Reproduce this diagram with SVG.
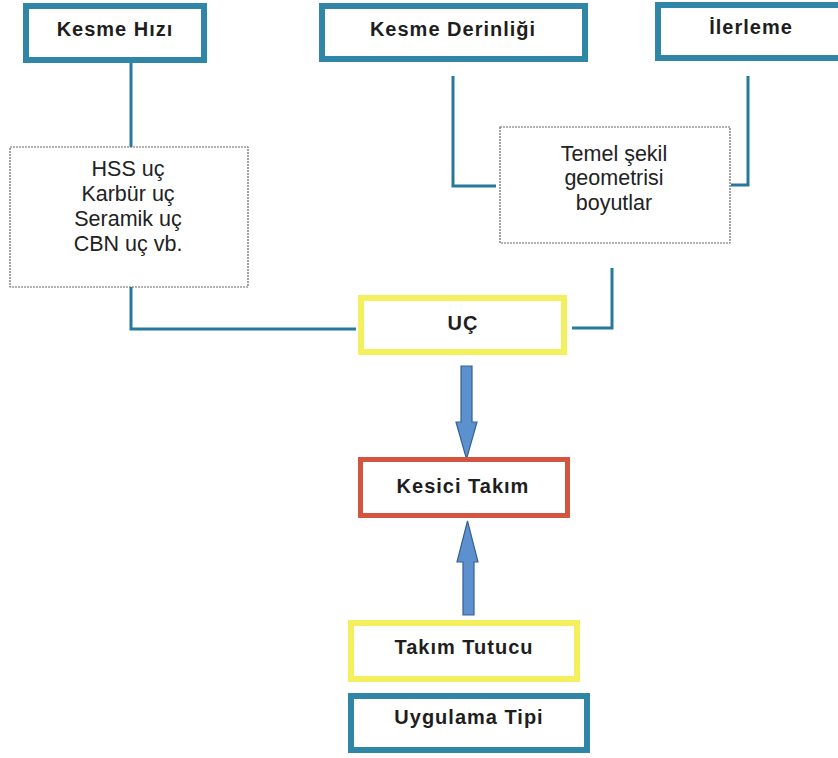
<svg xmlns="http://www.w3.org/2000/svg" width="838" height="758" viewBox="0 0 838 758">
  <style>
    .teal { fill: #ffffff; stroke: #2f86a6; stroke-width: 6; }
    .yellow { fill: #ffffff; stroke: #f4ef5c; stroke-width: 6; }
    .red { fill: #ffffff; stroke: #d4553f; stroke-width: 5; }
    .dotted { fill: #ffffff; stroke: #666666; stroke-width: 1.2; stroke-dasharray: 2 1; }
    .lbl { font-family: "Liberation Sans", Arial, sans-serif; font-weight: bold; font-size: 20px; letter-spacing: 1px; fill: #1e1e1e; text-anchor: middle; }
    .txt { font-family: "Liberation Sans", Arial, sans-serif; font-size: 21.5px; fill: #222222; text-anchor: middle; }
    .link { fill: none; stroke: #27799c; stroke-width: 3; }
    .arrow { fill: #5d90cf; stroke: #35628f; stroke-width: 1.2; stroke-linejoin: miter; }
  </style>

  <rect x="0" y="0" width="838" height="758" fill="#ffffff"/>

  <!-- connectors -->
  <g id="connectors">
    <path class="link" d="M131,63 V147"/>
    <path class="link" d="M131,287 V329 H356"/>
    <path class="link" d="M453,76 V186 H496"/>
    <path class="link" d="M748,76 V185 H731"/>
    <path class="link" d="M612,268 V328 H572"/>
    <!-- UÇ down to Kesici Takım -->
    <path class="arrow" d="M461,366 H472 V422 H477 L466.5,459 L456,422 H461 Z"/>
    <!-- Takım Tutucu up to Kesici Takım -->
    <path class="arrow" d="M463,615 V562 H457 L467.5,521 L478,562 H474 V615 Z"/>
  </g>

  <g id="kesme-hizi">
    <rect class="teal" x="26" y="6" width="178" height="54"/>
    <text class="lbl" x="115" y="36">Kesme Hızı</text>
  </g>

  <g id="kesme-derinligi">
    <rect class="teal" x="322" y="6" width="263" height="53"/>
    <text class="lbl" x="453" y="36">Kesme Derinliği</text>
  </g>

  <g id="ilerleme">
    <rect class="teal" x="658" y="5" width="190" height="53"/>
    <text class="lbl" x="751" y="34">İlerleme</text>
  </g>

  <g id="uc-turleri">
    <rect class="dotted" x="10" y="147" width="238" height="140"/>
    <text class="txt" x="128" y="176">HSS uç</text>
    <text class="txt" x="128" y="201">Karbür uç</text>
    <text class="txt" x="128" y="226">Seramik uç</text>
    <text class="txt" x="128" y="251">CBN uç vb.</text>
  </g>

  <g id="temel-sekil">
    <rect class="dotted" x="500" y="127" width="230" height="116"/>
    <text class="txt" x="614" y="161">Temel şekil</text>
    <text class="txt" x="614" y="185">geometrisi</text>
    <text class="txt" x="614" y="210">boyutlar</text>
  </g>

  <g id="uc">
    <rect class="yellow" x="361" y="298" width="203" height="54"/>
    <text class="lbl" x="463" y="330">UÇ</text>
  </g>

  <g id="kesici-takim">
    <rect class="red" x="360.5" y="459.5" width="207" height="56"/>
    <text class="lbl" x="463" y="493">Kesici Takım</text>
  </g>

  <g id="takim-tutucu">
    <rect class="yellow" x="351" y="623" width="226" height="56"/>
    <text class="lbl" x="464" y="654">Takım Tutucu</text>
  </g>

  <g id="uygulama-tipi">
    <rect class="teal" x="351" y="696" width="236" height="54"/>
    <text class="lbl" x="469" y="724">Uygulama Tipi</text>
  </g>
</svg>
